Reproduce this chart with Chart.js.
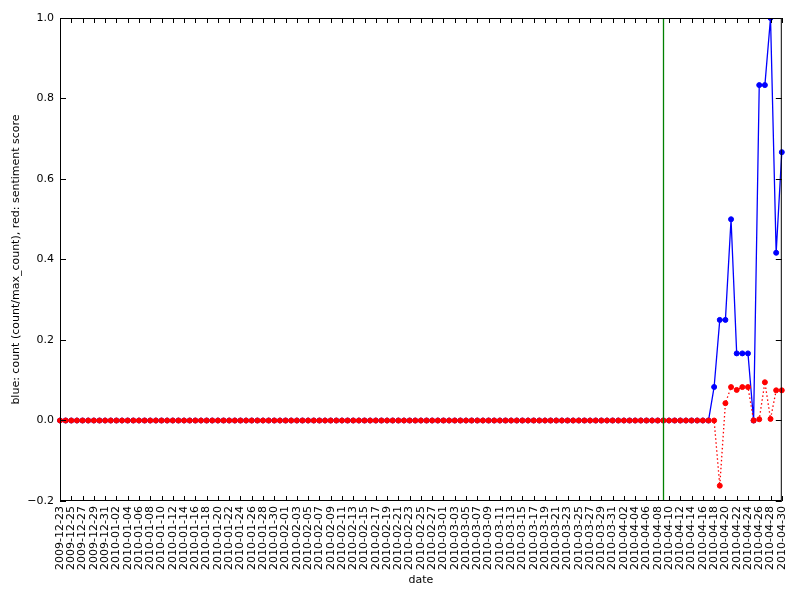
<!DOCTYPE html>
<html>
<head>
<meta charset="utf-8">
<script src="https://cdn.jsdelivr.net/npm/chart.js@4.4.0/dist/chart.umd.min.js"></script>
<style>
  html, body { margin: 0; padding: 0; background: #ffffff; }
  #wrap { width: 800px; height: 600px; }
</style>
</head>
<body>
<div id="wrap"><canvas id="c" width="800" height="600"></canvas></div>
<script>
// ---- data ----
const dates = [
  '2009-12-23','2009-12-24','2009-12-25','2009-12-26','2009-12-27','2009-12-28','2009-12-29','2009-12-30','2009-12-31',
  '2010-01-01','2010-01-02','2010-01-03','2010-01-04','2010-01-05','2010-01-06','2010-01-07','2010-01-08','2010-01-09','2010-01-10',
  '2010-01-11','2010-01-12','2010-01-13','2010-01-14','2010-01-15','2010-01-16','2010-01-17','2010-01-18','2010-01-19','2010-01-20',
  '2010-01-21','2010-01-22','2010-01-23','2010-01-24','2010-01-25','2010-01-26','2010-01-27','2010-01-28','2010-01-29','2010-01-30','2010-01-31',
  '2010-02-01','2010-02-02','2010-02-03','2010-02-04','2010-02-05','2010-02-06','2010-02-07','2010-02-08','2010-02-09','2010-02-10',
  '2010-02-11','2010-02-12','2010-02-13','2010-02-14','2010-02-15','2010-02-16','2010-02-17','2010-02-18','2010-02-19','2010-02-20',
  '2010-02-21','2010-02-22','2010-02-23','2010-02-24','2010-02-25','2010-02-26','2010-02-27','2010-02-28',
  '2010-03-01','2010-03-02','2010-03-03','2010-03-04','2010-03-05','2010-03-06','2010-03-07','2010-03-08','2010-03-09','2010-03-10',
  '2010-03-11','2010-03-12','2010-03-13','2010-03-14','2010-03-15','2010-03-16','2010-03-17','2010-03-18','2010-03-19','2010-03-20',
  '2010-03-21','2010-03-22','2010-03-23','2010-03-24','2010-03-25','2010-03-26','2010-03-27','2010-03-28','2010-03-29','2010-03-30','2010-03-31',
  '2010-04-01','2010-04-02','2010-04-03','2010-04-04','2010-04-05','2010-04-06','2010-04-07','2010-04-08','2010-04-09','2010-04-10',
  '2010-04-11','2010-04-12','2010-04-13','2010-04-14','2010-04-15','2010-04-16','2010-04-17','2010-04-18','2010-04-19','2010-04-20',
  '2010-04-21','2010-04-22','2010-04-23','2010-04-24','2010-04-25','2010-04-26','2010-04-27','2010-04-28','2010-04-29','2010-04-30'
];

// blue: count (count/max_count)
const countValues = [
  0,0,0,0,0,0,0,0,0,
  0,0,0,0,0,0,0,0,0,0, 0,0,0,0,0,0,0,0,0,0, 0,0,0,0,0,0,0,0,0,0,0,
  0,0,0,0,0,0,0,0,0,0, 0,0,0,0,0,0,0,0,0,0, 0,0,0,0,0,0,0,0,
  0,0,0,0,0,0,0,0,0,0, 0,0,0,0,0,0,0,0,0,0, 0,0,0,0,0,0,0,0,0,0,0,
  0,0,0,0,0,0,0,0,0,0, 0,0,0,0,0,0,0,
  0.0833,0.25,0.25,0.5,0.1667,0.1667,0.1667,0,0.8333,0.8333,1.0,0.4167,0.6667
];

// red: sentiment score
const sentimentValues = [
  0,0,0,0,0,0,0,0,0,
  0,0,0,0,0,0,0,0,0,0, 0,0,0,0,0,0,0,0,0,0, 0,0,0,0,0,0,0,0,0,0,0,
  0,0,0,0,0,0,0,0,0,0, 0,0,0,0,0,0,0,0,0,0, 0,0,0,0,0,0,0,0,
  0,0,0,0,0,0,0,0,0,0, 0,0,0,0,0,0,0,0,0,0, 0,0,0,0,0,0,0,0,0,0,0,
  0,0,0,0,0,0,0,0,0,0, 0,0,0,0,0,0,0,
  0,-0.162,0.043,0.083,0.076,0.083,0.083,0,0.003,0.095,0.004,0.075,0.075
];

const eventDate = '2010-04-09';
const yTicks = [-0.2, 0.0, 0.2, 0.4, 0.6, 0.8, 1.0];
const labelEvery = 2;

// ---- drawing ----
const FONT = 'DejaVu Sans';
const FS = 11;

const framePlugin = {
  id: 'frame',
  afterDatasetsDraw(chart) {
    const {ctx, chartArea: a, scales: {x, y}} = chart;
    ctx.save();
    // green event line
    const gx = Math.round(x.getPixelForValue(dates.indexOf(eventDate))) + 0.5;
    ctx.strokeStyle = '#008000';
    ctx.lineWidth = 1.3;
    ctx.beginPath();
    ctx.moveTo(gx, a.top);
    ctx.lineTo(gx, a.bottom);
    ctx.stroke();
    // frame
    ctx.strokeStyle = '#000000';
    ctx.lineWidth = 1;
    ctx.strokeRect(a.left + 0.5, a.top + 0.5, a.right - a.left - 1, a.bottom - a.top - 1);
    // inward ticks
    const tl = 5;
    ctx.beginPath();
    for (let i = 0; i < dates.length; i += labelEvery) {
      const px = Math.round(x.getPixelForValue(i)) + 0.5;
      ctx.moveTo(px, a.bottom);
      ctx.lineTo(px, a.bottom - tl);
      ctx.moveTo(px, a.top);
      ctx.lineTo(px, a.top + tl);
    }
    yTicks.forEach(v => {
      const py = Math.round(y.getPixelForValue(v)) + 0.5;
      ctx.moveTo(a.left, py);
      ctx.lineTo(a.left + 6, py);
      ctx.moveTo(a.right, py);
      ctx.lineTo(a.right - 6, py);
    });
    ctx.stroke();
    ctx.restore();
  }
};

new Chart(document.getElementById('c'), {
  type: 'line',
  data: {
    labels: dates,
    datasets: [
      {
        label: 'sentiment score',
        data: sentimentValues,
        order: 0,
        borderColor: '#ff0000',
        backgroundColor: '#ff0000',
        borderWidth: 1.3,
        borderDash: [1.5, 2.5],
        pointRadius: 2.5,
        pointBorderWidth: 1,
        pointBorderColor: '#ff0000',
        pointBackgroundColor: '#ff0000',
        tension: 0,
        fill: false
      },
      {
        label: 'count',
        data: countValues,
        order: 1,
        borderColor: '#0000ff',
        backgroundColor: '#0000ff',
        borderWidth: 1.3,
        pointRadius: 2.5,
        pointBorderWidth: 1,
        pointBorderColor: '#0000ff',
        pointBackgroundColor: '#0000ff',
        tension: 0,
        fill: false
      }
    ]
  },
  options: {
    responsive: false,
    animation: false,
    devicePixelRatio: 1,
    layout: { padding: { top: 18, right: 18, left: 0, bottom: 0 } },
    plugins: { legend: { display: false }, tooltip: { enabled: false } },
    scales: {
      x: {
        type: 'category',
        offset: false,
        grid: { display: false, drawTicks: false },
        border: { display: false },
        ticks: {
          autoSkip: false,
          maxRotation: 90,
          minRotation: 90,
          padding: 5,
          color: '#000000',
          font: { family: FONT, size: FS },
          callback: function (val, idx) { return idx % labelEvery === 0 ? dates[idx] : ''; }
        },
        title: {
          display: true,
          text: 'date',
          color: '#000000',
          font: { family: FONT, size: FS },
          padding: { top: 4, bottom: 13 }
        },
        afterFit: (s) => { s.height = 99; }
      },
      y: {
        type: 'linear',
        min: -0.2,
        max: 1.0,
        grid: { display: false, drawTicks: false },
        border: { display: false },
        afterBuildTicks: (s) => { s.ticks = yTicks.map(v => ({ value: v })); },
        ticks: {
          padding: 6,
          color: '#000000',
          font: { family: FONT, size: FS },
          callback: (v) => {
            if (Math.abs(v) < 1e-9) return '0.0';
            return v.toFixed(1).replace('-', '\u2212');
          }
        },
        title: {
          display: true,
          text: 'blue: count (count/max_count), red: sentiment score',
          color: '#000000',
          font: { family: FONT, size: FS },
          padding: { top: 10, bottom: 4 }
        },
        afterFit: (s) => { s.width = 60; }
      }
    }
  },
  plugins: [framePlugin]
});
</script>
</body>
</html>
